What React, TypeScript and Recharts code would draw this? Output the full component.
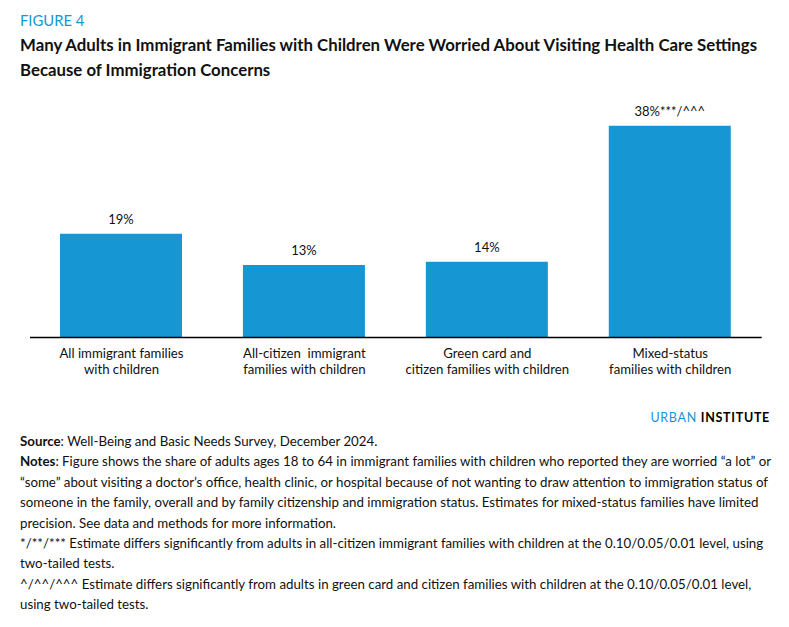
import React from 'react';
import { BarChart, Bar, XAxis, YAxis, LabelList } from 'recharts';

const categoryLines = [
  ['All immigrant families', 'with children'],
  ['All-citizen  immigrant', 'families with children'],
  ['Green card and', 'citizen families with children'],
  ['Mixed-status', 'families with children'],
];
const shares = [18.6, 13.0, 13.6, 38.0];
const significance = ['', '', '', '***/^^^'];

const footerLines = [
  [['Source', ': Well-Being and Basic Needs Survey, December 2024.']],
  [['Notes', ': Figure shows the share of adults ages 18 to 64 in immigrant families with children who reported they are worried \u201ca lot\u201d or']],
  [['', '\u201csome\u201d about visiting a doctor\u2019s office, health clinic, or hospital because of not wanting to draw attention to immigration status of']],
  [['', 'someone in the family, overall and by family citizenship and immigration status. Estimates for mixed-status families have limited']],
  [['', 'precision. See data and methods for more information.']],
  [['', '*/**/*** Estimate differs significantly from adults in all-citizen immigrant families with children at the 0.10/0.05/0.01 level, using']],
  [['', 'two-tailed tests.']],
  [['', '^/^^/^^^ Estimate differs significantly from adults in green card and citizen families with children at the 0.10/0.05/0.01 level,']],
  [['', 'using two-tailed tests.']],
];

const data = categoryLines.map((lines, i) => ({
  name: lines.join(' '),
  value: shares[i],
  label: `${Math.round(shares[i])}%${significance[i]}`,
}));

const FONT = 'Lato, "Open Sans", sans-serif';
const BLUE = '#1696d2';

function CategoryTick(props: any) {
  const { x, y, payload } = props;
  const idx = data.findIndex((d) => d.name === payload.value);
  const lines = categoryLines[idx] || [payload.value];
  return (
    <text x={x} y={y} textAnchor="middle" fill="#111" fontSize={13.2} fontFamily={FONT} style={{ whiteSpace: 'pre' }}>
      {lines.map((l, i) => (
        <tspan key={i} x={x} dy={i === 0 ? 12 : 16.5}>
          {l}
        </tspan>
      ))}
    </text>
  );
}

export default function App() {
  return (
    <div
      style={{
        position: 'absolute',
        top: 0,
        left: 0,
        width: 789,
        height: 627,
        background: '#fff',
        fontFamily: FONT,
        color: '#111',
        overflow: 'hidden',
      }}
    >
      <div style={{ position: 'absolute', left: 20, top: 11, fontSize: 14.8, color: BLUE }}>FIGURE 4</div>
      <div style={{ position: 'absolute', left: 20, top: 32, fontSize: 16.8, fontWeight: 700, lineHeight: '25px', whiteSpace: 'nowrap' }}>
        Many Adults in Immigrant Families with Children Were Worried About Visiting Health Care Settings
        <br />
        Because of Immigration Concerns
      </div>

      <div style={{ position: 'absolute', left: 0, top: 0 }}>
        <BarChart width={789} height={400} data={data} margin={{ top: 114.5, right: 27.3, left: 30, bottom: 12.5 }}>
          <XAxis
            dataKey="name"
            height={50}
            axisLine={{ stroke: '#000', strokeWidth: 1.5 }}
            tickLine={false}
            interval={0}
            tick={<CategoryTick />}
          />
          <YAxis hide domain={[0, 40]} />
          <Bar dataKey="value" fill={BLUE} barSize={122} isAnimationActive={false}>
            <LabelList dataKey="label" position="top" offset={10} fill="#111" fontSize={13} fontFamily={FONT} />
          </Bar>
        </BarChart>
      </div>

      <div style={{ position: 'absolute', right: 19, top: 410, fontSize: 12.5, letterSpacing: 0.7 }}>
        <span style={{ color: BLUE }}>URBAN </span>
        <span style={{ fontWeight: 700, color: '#000' }}>INSTITUTE</span>
      </div>

      <div style={{ position: 'absolute', left: 20, top: 431, fontSize: 13.3, lineHeight: '20.4px', whiteSpace: 'nowrap' }}>
        {footerLines.map((line, i) => (
          <div key={i}>
            {line.map(([bold, rest], j) => (
              <React.Fragment key={j}>
                {bold && <b>{bold}</b>}
                {rest}
              </React.Fragment>
            ))}
          </div>
        ))}
      </div>
    </div>
  );
}
